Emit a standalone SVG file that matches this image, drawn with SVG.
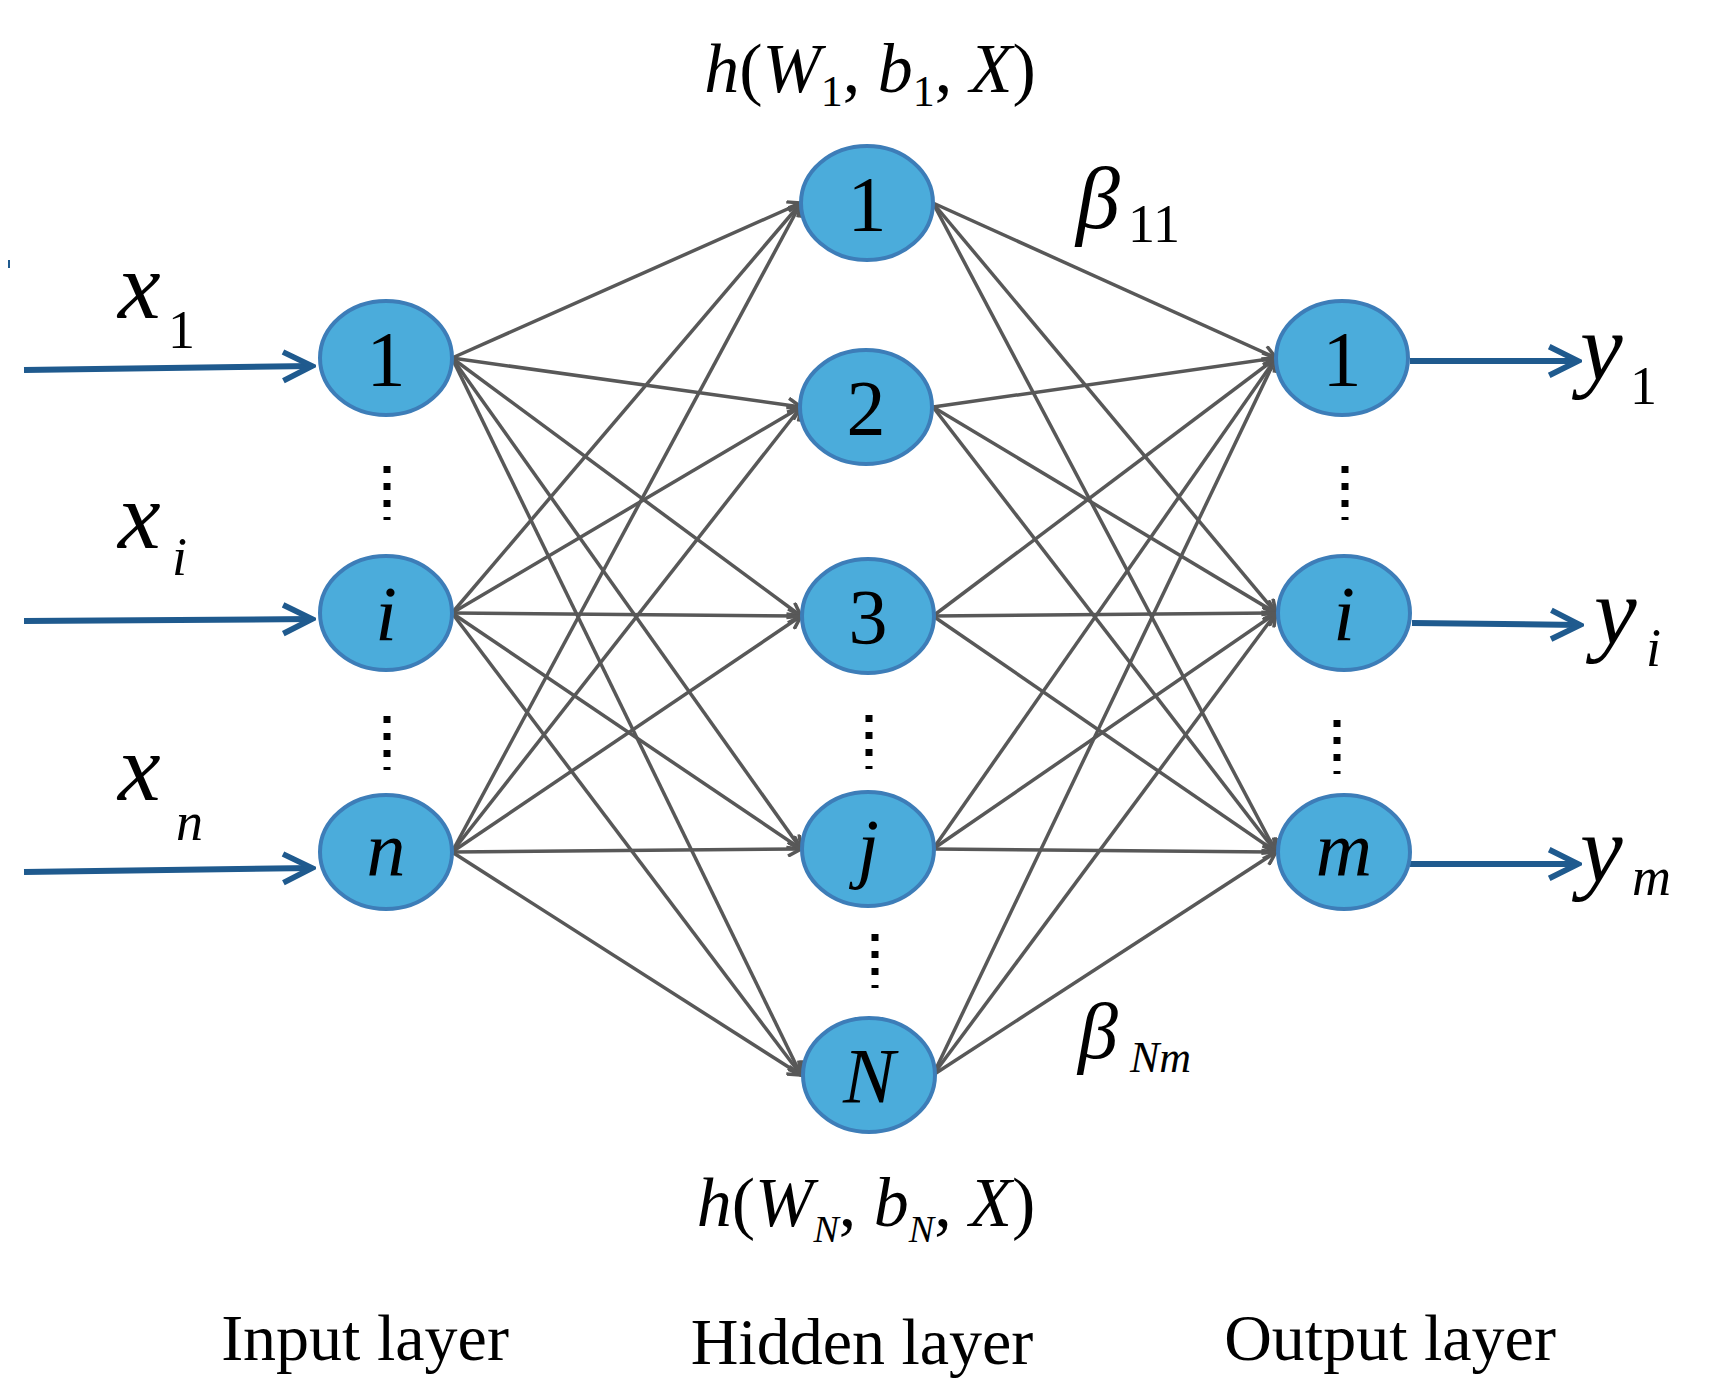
<svg xmlns="http://www.w3.org/2000/svg" width="1720" height="1396" viewBox="0 0 1720 1396">
<style>
.n{fill:#4bacdb;stroke:#3d7db8;stroke-width:4}
.t{font-family:"Liberation Serif",serif;fill:#000}
.it{font-style:italic}
.c line{stroke:#585858;stroke-width:3.5;marker-end:url(#ag)}
.io line{stroke:#1f5a8e;stroke-width:6;marker-end:url(#ab)}
.d{stroke:#000;stroke-width:7;stroke-dasharray:7 10}
</style>
<defs>
<marker id="ag" markerWidth="16" markerHeight="16" refX="14" refY="8" orient="auto" markerUnits="userSpaceOnUse" viewBox="0 0 16 16"><path d="M1,1 L14,8 L1,15" fill="none" stroke="#585858" stroke-width="3.5"/></marker>
<marker id="ab" viewBox="0 0 10 10" refX="9" refY="5" markerWidth="6" markerHeight="6" orient="auto"><path d="M1,1 L9,5 L1,9" fill="none" stroke="#1f5a8e" stroke-width="1.6"/></marker>
</defs>
<line x1="9" y1="260" x2="9" y2="268" stroke="#1f5a8e" stroke-width="2"/>
<g class="c" id="connectors">
<line x1="452" y1="358" x2="801" y2="203"/><line x1="452" y1="358" x2="801" y2="407"/><line x1="452" y1="358" x2="801" y2="616"/><line x1="452" y1="358" x2="801" y2="849"/><line x1="452" y1="358" x2="801" y2="1075"/>
<line x1="452" y1="613" x2="801" y2="203"/><line x1="452" y1="613" x2="801" y2="407"/><line x1="452" y1="613" x2="801" y2="616"/><line x1="452" y1="613" x2="801" y2="849"/><line x1="452" y1="613" x2="801" y2="1075"/>
<line x1="452" y1="852" x2="801" y2="203"/><line x1="452" y1="852" x2="801" y2="407"/><line x1="452" y1="852" x2="801" y2="616"/><line x1="452" y1="852" x2="801" y2="849"/><line x1="452" y1="852" x2="801" y2="1075"/>
<line x1="933" y1="203" x2="1276" y2="358"/><line x1="933" y1="203" x2="1276" y2="613"/><line x1="933" y1="203" x2="1276" y2="852"/>
<line x1="933" y1="407" x2="1276" y2="358"/><line x1="933" y1="407" x2="1276" y2="613"/><line x1="933" y1="407" x2="1276" y2="852"/>
<line x1="933" y1="616" x2="1276" y2="358"/><line x1="933" y1="616" x2="1276" y2="613"/><line x1="933" y1="616" x2="1276" y2="852"/>
<line x1="933" y1="849" x2="1276" y2="358"/><line x1="933" y1="849" x2="1276" y2="613"/><line x1="933" y1="849" x2="1276" y2="852"/>
<line x1="933" y1="1075" x2="1276" y2="358"/><line x1="933" y1="1075" x2="1276" y2="613"/><line x1="933" y1="1075" x2="1276" y2="852"/>
</g>
<g class="io" id="io-arrows">
<line x1="24" y1="370" x2="312" y2="366"/><line x1="24" y1="621" x2="312" y2="619"/><line x1="24" y1="872" x2="312" y2="868"/>
<line x1="1410" y1="361" x2="1578" y2="361"/><line x1="1412" y1="623" x2="1580" y2="625"/><line x1="1410" y1="864" x2="1578" y2="864"/>
</g>
<g id="input" class="t">
<g id="in1"><ellipse class="n" cx="386" cy="358" rx="66" ry="57"/><text x="386" y="385" font-size="78" text-anchor="middle">1</text></g>
<g id="ini"><ellipse class="n" cx="386" cy="613" rx="66" ry="57"/><text class="it" x="386" y="640" font-size="78" text-anchor="middle">i</text></g>
<g id="inn"><ellipse class="n" cx="386" cy="852" rx="66" ry="57"/><text class="it" x="386" y="876" font-size="78" text-anchor="middle">n</text></g>
</g>
<g id="hidden" class="t">
<g id="h1"><ellipse class="n" cx="867" cy="203" rx="66" ry="57"/><text x="867" y="230" font-size="78" text-anchor="middle">1</text></g>
<g id="h2"><ellipse class="n" cx="866" cy="407" rx="66" ry="57"/><text x="866" y="434" font-size="78" text-anchor="middle">2</text></g>
<g id="h3"><ellipse class="n" cx="868" cy="616" rx="66" ry="57"/><text x="868" y="643" font-size="78" text-anchor="middle">3</text></g>
<g id="hj"><ellipse class="n" cx="868" cy="849" rx="66" ry="57"/><text class="it" x="868" y="873" font-size="78" text-anchor="middle">j</text></g>
<g id="hN"><ellipse class="n" cx="869" cy="1075" rx="66" ry="57"/><text class="it" x="869" y="1102" font-size="78" text-anchor="middle">N</text></g>
</g>
<g id="output" class="t">
<g id="o1"><ellipse class="n" cx="1342" cy="358" rx="66" ry="57"/><text x="1342" y="385" font-size="78" text-anchor="middle">1</text></g>
<g id="oi"><ellipse class="n" cx="1344" cy="613" rx="66" ry="57"/><text class="it" x="1344" y="640" font-size="78" text-anchor="middle">i</text></g>
<g id="om"><ellipse class="n" cx="1344" cy="852" rx="66" ry="57"/><text class="it" x="1344" y="876" font-size="78" text-anchor="middle">m</text></g>
</g>
<g id="dots">
<line class="d" x1="387" y1="466" x2="387" y2="520"/><line class="d" x1="387" y1="716" x2="387" y2="770"/>
<line class="d" x1="869" y1="715" x2="869" y2="769"/><line class="d" x1="875" y1="934" x2="875" y2="988"/>
<line class="d" x1="1345" y1="466" x2="1345" y2="520"/><line class="d" x1="1337" y1="720" x2="1337" y2="774"/>
</g>
<g id="labels" class="t">
<text class="it" x="118" y="318" font-size="96">x</text><text x="168" y="348" font-size="54">1</text>
<text class="it" x="118" y="548" font-size="96">x</text><text class="it" x="172" y="575" font-size="54">i</text>
<text class="it" x="118" y="800" font-size="96">x</text><text class="it" x="176" y="840" font-size="54">n</text>
<text class="it" x="1580" y="380" font-size="96">y</text><text x="1630" y="404" font-size="54">1</text>
<text class="it" x="1594" y="644" font-size="96">y</text><text class="it" x="1646" y="666" font-size="54">i</text>
<text class="it" x="1580" y="882" font-size="96">y</text><text class="it" x="1632" y="895" font-size="54">m</text>
<text x="870" y="92" font-size="70" text-anchor="middle"><tspan class="it">h</tspan>(<tspan class="it">W</tspan><tspan font-size="44" dy="14">1</tspan><tspan dy="-14">, </tspan><tspan class="it">b</tspan><tspan font-size="44" dy="14">1</tspan><tspan dy="-14">, </tspan><tspan class="it">X</tspan>)</text>
<text x="866" y="1226" font-size="70" text-anchor="middle"><tspan class="it">h</tspan>(<tspan class="it">W</tspan><tspan class="it" font-size="38" dy="16">N</tspan><tspan dy="-16">, </tspan><tspan class="it">b</tspan><tspan class="it" font-size="38" dy="16">N</tspan><tspan dy="-16">, </tspan><tspan class="it">X</tspan>)</text>
<text class="it" x="1076" y="228" font-size="88">β</text><text x="1128" y="242" font-size="54">11</text>
<text class="it" x="1078" y="1058" font-size="80">β</text><text class="it" x="1130" y="1072" font-size="44">Nm</text>
<text x="365" y="1360" font-size="66" text-anchor="middle">Input layer</text>
<text x="862" y="1364" font-size="66" text-anchor="middle">Hidden layer</text>
<text x="1390" y="1360" font-size="66" text-anchor="middle">Output layer</text>
</g>
</svg>
